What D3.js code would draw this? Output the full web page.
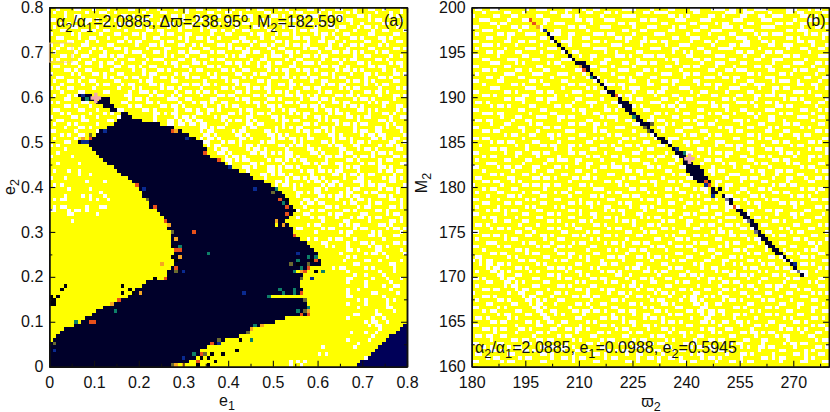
<!DOCTYPE html>
<html><head><meta charset="utf-8">
<script src="https://cdnjs.cloudflare.com/ajax/libs/d3/7.8.5/d3.min.js"></script>
<style>html,body{margin:0;padding:0;background:#fff}svg{display:block}text{font-family:"Liberation Sans",Arial,sans-serif;fill:#111}</style>
</head><body><svg id="c" width="830" height="412"></svg>
<script>
// ---------- data: panel (a) e1/e2 map, 100 x 100 cells, row 0 at the top ----------
const a_xTicks=[0,0.1,0.2,0.3,0.4,0.5,0.6,0.7,0.8];
const a_yTicks=[0,0.1,0.2,0.3,0.4,0.5,0.6,0.7,0.8];
const a_white=[
"..o....oo...o...o.....oo...o..o....o..o..oo....o...o...o..oo....o.o.....oo..o...oo...o...oo..o....o.",
".o..o.....o...oo..o.......o....oo.....o.....oo...oo..o......oo.....o.oo....o..o....o.o.....o...o..o.",
"....o..oo.......o...oo.o....o.....oo.o...o.....o.....o.oo.....oo.o.....o.oo...o.oo....oo.o.....o.o..",
"oo.....o..oo.o....o.....o.oo...o.....o...oo.o....oo.....o..o.o.....oo.o....o.....o.oo....o.oo.....o.",
"...o.o....o....oo..o.oo.....o.o..oo.....o.....oo..o.o.oo.....o..oo....o.oo..o.o.....o..o.....oo.o...",
".o....oo.....o.....o....oo.o.....o..o.oo..o.o.......o....oo.o....o.oo.....o...oo.oo...o.oo.o.....o..",
"...oo....oo.o..oo....o.....oo.oo....o.....o..oo.o..o..oo.....oo.....o.oo.oo.....o....o....o..oo....o",
"o.....o.o.....o...oo...oo.o....o.oo...oo.....o...oo.....o.oo...o.oo.o.....o.oo.o..oo.....oo.....oo..",
"..oo....o..oo...o....o....o..oo.....o.o..oo.o..o.....oo....o..o.....oo.oo...o...o...oo.o....oo.o....",
".....oo...o..o.....oo.o.oo.....o.oo...o.....oo.....oo.oo.o.....oo.o.....o..oo.oo..o.....oo...o...oo.",
"o..o.....oo.....oo......o...oo.o....oo..o.o....oo.o.....o..oo.o...o.oo.oo.....o..o..oo.o....o.o.....",
"..o..oo.o...o.o...oo.o.....o....oo.....o...oo.....o.oo.o.....o..oo.....o.oo..oo....o.....oo.....oo.o",
".o.....o...o...o.....o.ooo...oo.o...oo.ooo...o.oo.....oo.oo...o...oo.o.....o...oo.oo.o.o...o.oo.....",
"...oo.o..oo...oo.o.oo.....o.....o.o...o...oo.....o.o.oo.....o.ooo..o...oo.o.oo.......o..oo.....o..o.",
"o.o.....o...o.....o...oo...o.ooo....oo..o....o.oo.......o..oo.....o..oo.....o..oo.o.oo.....oo.o.....",
"....o.oo..oo..o.oo..o.....o.....o.oo....oo.o.....oo.oo.o..o..o.oo...o..ooo.o.....o....oo.o.....o.oo.",
".oo.....o.....o...oo..oo.o..oo.....o.oo.....oo.o.....o....o.oo.....oo.......oo.oo..o.....oo.oo....o.",
"....oo.o..oo.....o.....o..o...oo.o.....o.oo.....oo.o..oo.....o.o.oo..o.oo.o.....o.oo.o.o.....o..o...",
"o.....o.o...oo.o...oo.....o.oo.....o.oo.....o.o.....oo...o.oo.....o.....o...oo.o....o...oo.o....oo.o",
"..oo.....o.....o.o...o.oo...o..oo.o...o.oo...oo.oo....o.o.....oo.oo.o.oo.oo....o.oo.....o...oo.o....",
".o...oo.o..oo.....oo.....o.oo.....oo.......o.....o.oo.....oo.o.....o.....o..oo.....o.oo.o.o.....oo..",
"...o.....o...o.oo...o.oo....oo.o.....oo.oo.oo.o.....o.oo.....o..oo.oo.o.....o.oo.oo.....o..o.oo.....",
"o.o..oo.....o......o...o.o.....o.oo.o.....o.....oo.o...o.oo.oo.....o...oo.oo.....o.o.oo.....o....o.o",
"...o....oo.....oo.....o..ooo.o.....o..oo.o.oo.o.....oo.o.....o.oo.o..o.....o.oo.....o...oo.oo.o.....",
".o...o.o.............oo.....o.oo..o.o.....o....oo.oo.....oo.o.....oo.oo.o.o.....oo.oo.o.....o...oo.o",
"....oo.....o..........o.oo.o.....ooo..oo.....oo.....o.oo.....oo.o.....o..oo.oo.o.....o.oo.o.....o...",
"o.o......oo.........oo.....oo.o.....o...o.oo.o..oo.....o.oo.o.....oo.o.....o...oo.oo.....o.o.oo.....",
"....oo.o...o..........o.oo.....oo.oo.o.....o...o.o.oo.....o..oo.o.....oo.oo.o.....o.oo.o.....o...oo.",
".oo.....oo...o.....oo.....oo.o.....o..oo.o..oo.o.....o.oo.....o..o.oo.....o..oo.o.....oo.o.o.....o.o",
"...o.o.....o...o.o...........oo.o.oo.....oo.o.....oo.o..o.oo.o.....o.o.oo.....o.oo.o.....o...oo.o...",
"o.....oo.o...o.....o.........o.....o.oo.o.....o.oo.....oo.....oo.o.....o..oo.o.....oo.o.oo.....o..oo",
"..oo.....oo.....oo...........o...oo.o.oo.oo.....o.o.oo.o.o.....o.oo.oo.....o.o.oo.....o.....oo.o....",
".o...o.o.....o...............o...oo.oo.oo.oo.....o.....oo.oo.....o.....oo.o.....o.oo.o.oo.....o.o...",
"....o...oo.o..............................oo.o.oo.....o.oo.....o.o.o.oo.....oo.o.....o.....oo.o..oo.",
"oo.....o.....o............................o.oo.....o.oo.....oo.o.....o.oo.oo.o.o.....o.oo..oo.....o.",
"...o.o..oo.................................oo.o.....oo.o.....oo.o.o.....o.....oo.o.....o.oo.oo.....o",
".o.....o..................................o.oo.o.....oo.o.....o.oo.oo.o.oo.....o.oo.o.....oo.o..oo.",
"....oo.....................................oo...o.oo.o.....o.oo.....o.o.....oo.o....o.oo.o.....oo..o",
"o.o.........o...............................o.oo.....o.oo.o.....oo.o.oo.o.....o.oo...oo.....o.oo.o..",
"....o.......oo................................o.oo.....o.oo.o.....o.....oo.o.....oo...o.oo.o.....oo.",
"..o............................................oo.o.....oo.oo.o.o.oo.....oo.o....o.oo.....o.oo.o...",
"o.....o..........................................o.oo.o.....o.....oo.o.....o.oo.oo...o.oo.o.....oo.o",
".................................................oo.o.oo.....o.oo.o.o.oo.....o.....oo.o.....o.oo...",
"..o.....o.........................................o.....oo.o.....o.....oo.o.oo..oo.....o.oo.o.....oo",
"......................................................oo.o...oo.o.oo.o.....o.....o.o.oo.....oo.o...",
".o...o..o..............................................o.....oo.o.....o.oo.oo.o.oo....o.....o.oo.oo",
"........o..o...............................................oo.o.oo.o.....o.....oo.o.oo.o.oo.....o...",
"o...o.......................................................o.....o.oo.o.oo.o.....o...oo.....o.oo.o",
"..........o....o...............................................oo.o.....o.oo.o.oo....ooo.o.....oo..",
".o.o...........................................................o.oo.o.o.....o.oo.o.....o.oo.oo.....o",
".....o.....o........................................................o.....oo.o.....o.oo.....o.oo.o..",
"..............o......................................................oo.o.oo.....o.oo...o.oo.....o.",
"....o....o.o...o.....................................................o.....oo.o.oo.o.oo.....oo.o...",
".o.oo......o.o..o......................................................oo.o.....o...o.oo.o.....oo.o",
"......................................................................o.oo.oo.....o.oo...o.oo.....o",
".o.oo.....o...oo.......................................................o.....oo.o.....o.oo.....oo.o",
"oo...o.oo.o..........................................................o...o.oo.....oo.o.....oo.o.....",
".....oo......o.........................................................oo.....o.oo.....oo.....o.oo.",
".....................................................................o...o.oo...o...o.oo.o.oo.....o.",
"......o.....................................................................o.....oo.....o.....oo.o.",
"........................................................................o.oo.....o.o.oo.....oo.o....",
".....................................................................oo.....o.oo.....o.oo.....o.oo.o",
"..........................................................................o......o.oo.....o.o.....o.",
"...................................................................................o.....oo.o...oo.",
"........................................................................o.o...o.oo...o.......o.....",
"............................................................................oo.....o...oo.o.....oo.o",
".............................................................................o.o...o.....o.oo.o.....",
"...................................................................................oo.o....oo.....o.",
".................................................................................o......o.oo.o.....o",
"...................................................................................o.o........o....",
"..................................................................................o.....oo..o.....o",
".....................................................................................oo........oo..",
"...............................................................................o.oo.....o.o.....o...",
"...................................................................................o........o...o..",
".....................................................................................o..o....o.....",
"...................................................................................oo.....o...o...o",
"...................................................................................o....o......o...",
"........................................................................................o....o..oo.",
"...................................................................................o..o........o...",
"...................................................................................o......oo.....o.",
"...................................................................................oo........o.....",
"......................................................................................o.o.....o.o..",
"...................................................................................o....o.....o....",
"......................................................................................o.......oo...",
"...........................................................................................o....o...",
".....................................................................................oo....oo.......",
"...................................................................................o......o..o.....",
"........................................................................................o.oo..o.....",
".........................................................................................o.oo.......",
"............................................................................................o.......",
"....................................................................................o...o..o........",
"..........................................................................................o.........",
"...................................................................................o.....o..........",
"......................................................................................o.............",
"............................................................................o........o..............",
"....................................................................................................",
"...........................................................................o.o......................",
"........................................................................................o...........",
"...................................................................o.o.o............................",
"...................................................................o..o............................."
];
const a_darkRuns=[[24,8,11],[25,9,12],[25,14,16],[26,13,16],[27,15,17],[28,17,18],[29,20,21],[30,20,22],[31,19,25],[32,18,30],[33,16,34],[34,14,36],[35,13,38],[36,12,40],[37,8,42],[38,11,42],[39,12,43],[40,13,43],[41,14,44],[42,15,46],[43,16,48],[44,18,50],[45,19,52],[46,20,55],[47,22,56],[48,23,59],[49,24,61],[50,25,62],[51,26,64],[52,26,65],[53,27,66],[54,28,66],[55,28,67],[56,30,67],[57,31,67],[58,32,66],[59,32,65],[60,33,66],[61,33,67],[62,34,67],[63,34,68],[64,34,69],[65,34,71],[66,35,72],[67,35,73],[68,35,74],[69,35,74],[70,35,75],[71,35,75],[72,34,72],[73,33,70],[74,33,70],[75,32,69],[76,27,69],[77,26,69],[78,24,70],[79,23,70],[80,22,60],[81,19,71],[82,17,71],[83,15,72],[84,13,72],[85,12,71],[86,10,65],[87,9,62],[88,7,59],[89,4,56],[90,3,54],[91,2,52],[92,1,48],[93,0,46],[94,0,43],[95,0,42],[96,0,41],[97,0,40],[98,0,38],[99,0,33]];
const a_blueRuns=[[88,99,99],[89,98,99],[90,97,99],[91,95,99],[92,94,99],[93,93,99],[94,92,99],[95,91,99],[96,90,99],[97,89,99],[98,87,99],[99,86,99]];
const a_accents="k:40,36 66,53 68,56 74,73 34,66 34,69 35,70 29,75 20,77 20,79 22,78 23,79 4,77 3,78 2,80 0,81 1,81 0,82 1,82 0,80 45,96 44,97 46,98 48,96 52,95 53,92 42,97 41,99 44,99 69,71 73,70|r:11,36 34,34 24,49 43,40 47,42 64,53 29,55 32,59 35,67 36,67 35,72 32,75 40,62 11,87 12,87 19,81 45,93 42,96 41,98 66,55 66,57 68,63 74,70 71,73 72,72 70,79 72,85 70,85|a:9,36 35,34 33,60 35,64 36,69 31,71 17,82 25,79 37,99 35,99 65,60 63,59 72,84 59,88 56,89 70,73|g:10,25 36,66 63,50 18,84 7,87 44,68 40,96 65,54 74,69 72,69 69,70 76,73 68,73 70,72 64,78 65,79 68,78 68,79 61,80 72,83 69,84 57,88 56,92|n:11,35 27,53 62,51 34,62 35,73 1,93 47,92 43,96 34,99 72,71 67,71 70,75 71,81 71,84 55,90 47,92|b:9,24 9,37 10,37 15,34 38,36 26,50 50,44 57,50 37,73 1,95 47,93 37,97 69,68 73,75 54,79|y:69,73 63,60 42,95";
// ---------- data: panel (b) varpi2/M2 map, 100 x 100 cells ----------
const b_xTicks=[180,195,210,225,240,255,270];
const b_yTicks=[160,165,170,175,180,185,190,195,200];
const b_white=[
".oo..ooo.......o..ooo.....oo...o..oo......oooo....o....oo....ooo...oooo.oo..o..oooo.....ooo...o.oo..",
"...o.....oo...o.......oo..o.....oo...oo.o.......oo.oooo.......oo.......ooo..ooo....o....oo.oo.....oo",
"o.....oo...oo.....oo.....ooo.o......o.....oooo.........oo.o.o.....oo..o....oo...oo..ooo.....oo..o...",
"..ooo.....o...ooo...oo.......oo.oo...ooo.......oo.oo.....ooo....ooo......ooo.....ooo......o...ooo..o",
".....oo.oo..........o..ooo.......o.......oo.oo.......oo......oo.....o.oo.....oo......oo.oo..oo......",
"oo.....o...oo.oo..oo.......oo.oo....ooo......o...ooo....o.oo....oo....ooo..o.....oooo.......o...oo.o",
"...ooo.......o.....o...oo.......o.........oo...oo......oo.....oo...ooo......ooo.........oo.ooo......",
".o.....oo.oo...ooo....ooo..oo.....ooo.oo.....o.....ooo......o.....o.....oo.....o.oo.ooo......o.oo.oo",
"....oo....o........oo......o...oo.......oo.oo...o.......oo...ooo.....oo...ooo...o.......oo.o......o.",
"oo.......oo..oo.oo....oo.ooo......oo.o.....o...oo.oo.oo......o...oo.o.......oo...oo.o......oo.oo....",
"...ooo.o....o......o.......o...oo......ooo.....o......o...ooo......o....oo.ooo.....oo..ooo.....o...o",
".o.......o.....ooo...ooo..........oooo.....oo.....ooo...oo.....oo....oooo.......o.......o...oo...oo.",
"....oo.oo...oo.....o.....oo.oo.......o..o.....oo........o..o.o...oo.......oo.oo...oo.oo.......o.....",
"oo.....o......oo.....oo.......o..oo.....ooo.o...ooo.oo......oo......ooo.....o....o.....oo.oo.....ooo",
"...oo.....ooo....oo......ooo.....o...oo.......o.......o.oo....oo.oo.....oo.....oo...ooo......o......",
".....ooo....o.o......o.oo....oo.....oo....oo..ooo.oo.....o......o...ooo....oo.......o.....ooo...oo.o",
"oo.......oo.......oo.....o.......oo....o.....o........oo...oo.oo....o....o.....oo.oo...oo......o....",
"...oo.o.....oo..o...oo.......oo.o...oo...ooo....oo.o......o.......oo...oo.ooo......oo.....o.oo...oo.",
".o.......ooo.....ooo....ooo....o.......o......oo.....ooo...oo.oo.....o.......oo.o.....oo.o......o...",
"....oo..o....oo.......o.....o...oooo.....oo.o.....oo.......o.....ooo..oo.oo.......ooo........oo...oo",
"oo.....oo.......oo.o.....oo.......o..o......oo...o...oo.oo....oo.........o...oo.....o.ooo..o.....o..",
"...o.......oo.o.....oo.....oo.oo.....ooo.oo......oo.....o......o.oo.oo.....oo..ooo.........oo..oo...",
".....ooo.......ooo.......o......o.o.......o.ooo......oo...ooo.......o...ooo.....o...oo.oo.......o..o",
"oo.......oo.o.....oo.oo.....ooo.....oo.......o...oo.oo.......o..oo.....o.....oo.....o.....ooo.o.....",
"...oo.o.......oo.......o..o.....oo.....ooo.oo......o....oo.....o...oo.....oo...oo.ooo.oo........oo..",
".........oo.ooo...oo.ooo.....oo.....o.......o.oo.....oo...o.oo........oo.o.....o.......o.oo.o......o",
".oo.o.........o......o......o...ooo....oo.........ooo....o.....ooo.o......ooo.o...oo.o.......oo..oo..",
".....o.oo.o.....oo.....oo.oo.....o...o...oo.oo.o.....o.oo.oo.......oo.oo.......o.....oo.oo......o...",
"oo...........oo....oo.......o.oo.....oo.o.......oo.......o.....oo......o...oo.....ooo.......oo...o.o",
"...ooo.oo.......o.....oo.......o..oo........oo.....oo.o....oo.....o.oo...o...oo.o.....o.oo.....o....",
"........o...oo....ooo...oo.oo.......o.ooo.....o...o.....oo.....oo.....oo.......o...oo......ooo...oo.",
".oo.oo.....o...oo.......o.......oo......o..oo....oo.oo.....oo.o.....o....ooo.o.....oo..o.......o....",
".....o...oo.....o.oo.......oo.oo..oo.o.......oo.......o.o......oo.oo.......o....oo.....oo.oo.....oo.",
"oo......o....oo.....oo.oo.........o.....ooo.....oo..oo.....ooo.......o.oo....oo....o.o......o.o.....",
"...oo.oo......o...o.......ooo.....o.oo.......o.......o...oo.....oo......o.oo......oo...oo.......oo.o",
".........o.oo...oo...oo.o.....oo......o.oo.....oo.oo.......o.oo...o.oo.......oo.o.....o...oo.oo.....",
"oo.oo.........o.......o....oo.....o.o.....oo.o.....o...ooo.......o.......oo.....o.oo.......o......oo",
".....o.oo.oo.....oo.....o.......oo.......o......oo.....o...oo.oo....ooo......oo.....oo.oo.....oo.o..",
"..o.........o..o...oo.oo...oo.o.....oo.o...oo.o.....oo......o.......o..oo.oo.....o.......o.oo.......",
".....oo.oo.....o.......o...o.....oo.....oo.....o.oo.....oo.....oo.o.......o..oo...oo.oo.......o.oo.o",
"oo.......o..oo...oo.oo.....oo.oo.....o.......oo.......o.....oo....o.oo.oo.....o.......o.oo.o.......o",
"...o.oo.....o.....o.....o.......o.oo...oo.o......oo.oo..oo.....o.......o...oo...oo.o......o...oo.o..",
".o.......oo....oo....oo.ooo..oo.....o.....oo.oo....o.....o.oo....oo.oo.......oo.....oo.oo.....o.....",
"....ooo.......o.....o........o..oo.....o........oo.....oo.......o.....o.oo.....o.oo.....o.oo.....oo.",
"oo.....o.oo.oo...oo....oo.o.....o...oo.ooo.o.....oo.o.....oo.oo....o.....o..oo.....o........o.oo....",
"...o.......o.....o...oo......oo...o........oo.oo......oo.......o..oo.oo.......o.oo...oo.oo......o.oo",
".....oo.o.....oo...o.....oo.....o.....oo.......o.oo.....o.oo.......o....ooo......o...o.....oo.......",
".oo.......oo.....oo.oo.o....oo.oo.o.......o.oo.......o......oo.oo......o...oo.oo....o...oo...o..oo.o",
"...oo.oo...o.o.............o.........oo.oo.....oo.oo...oo.o.......o.oo.....o.....oo.....o.....oo....",
"o.......o.....oo.oo.oo.oo.....oo.o.......o.o.......o.......oo.......o..oo.....o.....o.oo.oo.........",
"...o.oo....oo.......o......o......ooo.......oo.oo.....oo.o....o.oo.....o...oo...oo.o........o.oo.oo.",
".o.....oo.....o..oo....o.oo..oo.......o.oo.......o.o......oo.....o.oo.....o..o......oo.oo.......o...",
"....o.....oo.o.....oo......o.....oo.o.....oo.oo.......oo.....o.o.......oo.....oo.o.......o.oo.o.....",
"oo.....o.......o.o.....oo.....o.......oo.......o.oo.o.....o......oo.o....oo.o.....o.oo.........oo.oo",
"...oo....oo.oo.....oo......oo.o.oo.o.....o.oo.......o..oo...oo.o.......o.....o.oo.....oo.oo.o.......",
".o.....o.......o.o.....o.o.......o...oo.....o..oo.o........o.....o.oo..oo.o.....o.........o.....oo.o",
"....o.oo.o.oo.....oo.......oo.o......o.o.oo.....o...oo.oo.......oo.....o.....oo...oo.oo......oo.....",
"oo.......o....oo.....oo.o.....o..oo.......o...oo.......o...oo.o.....oo.....o.o.......o...oo.o.....o.",
"...o.oo.....o.....oo.......oo.....o..oo.o......o.o.oo.....o.....oo.o...ooo.....oo.o.......o.....oo..",
"......o..oo...oo.....oo.o.....oo.o......o.oo.o.......o.oo...oo.......o......oo......oo.o.....oo.....",
".oo.o........o....o.......o.o.....oo.o.......o...oo.o.......o...o.oo...oo.o....o.oo.......oo.....o.o",
".....o.oo.o....oo....oo.o....oo.......o.oo.....o.....oo.o.....oo.....o.....oo.o.......o.o.....oo....",
"oo..........oo...o.......oo.....o.oo.......oo...o.oo......oo.......o.oo.o......oo.oo.....o.oo......o",
"...oo.oo.o.....oo..oo.o.....oo.o.....oo.o.....oo......o.o.....oo.o......oo.oo.......o.oo.......oo...",
".o.......o.oo.......o...oo.......o.o.......o.......oo....oo.o.......oo.......o.oo.o.......oo.o.....o",
"....ooo.......o.oo....o.....o.oo.....o.oo.o..oo.oo.....o......o.oo.....o.oo.....o.....oo......oo.o..",
"oo.....o.oo.......o.oo..oo.o.....oo.......o.......o.oo...oo.oo.......o.o.....oo...oo.....oo.....o...",
"...o........oo.o.......o........o.....o.o...oo.oo.....o.......o...oo.....oo.o.....o.oo.o.....o.oo...",
".....oo.oo.....o.oo.....oo.oo.....oo.......o.....o.......oo.....o...oo.......o.oo.......oo.o.....oo.",
".oo.......o.o.......oo.....o..o.o.....oo.oo...oo.o.oo.o.....oo.....o....oo.o.......oo.o.....oo.o....",
"o.o.oo.......oo.oo.....o.oo.....o...o.....o.......o.....o.oo.....oo...oo.....oo.o......o.o........oo",
"..o.oo.oo.o.......o.o........oo.....oo.oo.....oo.....oo.......o.o.....o..o.o.....o.oo.......oo.o....",
"....o.oo....oo.o.....oo.oo.o.....o.o.......o.oo..o.....o.oo.....o..oo.......o.oo.....o.oo........o.o",
".o...oo.o.o.....o.o.......o..oo.....o.oo.o......oo.o.oo.....o.......o.oo.o......o.o......oo.oo..o...",
".......oo...oo.......oo.o.....o.o.......oo..o.......o.....oo.oo.o.......oo.oo.o.....oo.o.....o......",
"oo.o....o.oo.....oo.....o.oo.....oo.oo.....o...oo.o...oo.......o..oo.o.......o...oo.....o.oo.....oo.",
"....oo...oo.o.o.....oo.......o.o.....o.oo....o....oo.....o.oo.....o...oo.oo.....o......o......o.o...",
".o.......o.oo....oo.....oo.o.....oo.......o.oo.o......oo.......o.....o.....o.oo...oo.oo..oo......oo.",
"...oo.oo....o.oo.....o.......oo.o...o.oo......o..oo.o.....oo.o...oo...oo.o.....o.....o.....o.oo.....",
"o.........o..oo...oo...oo.o.....o.....o..oo.o......o.oo.o.....oo.....o.....oo.....oo....oo.....o.o.o",
"...oo.o.......o.oo....o.....oo.oo.oo.......o..oo.o.....o...o.oo..o.o..oo.....o.oo.....o.....oo......",
".o.....oo.o....oo.o.o...oo.......o.....oo.o.......o.oo....o..oo.o.....o.oo.o.....o.oo....o.....oo...",
"....oo.....oo...o.oo...o.....oo.o...oo......oo.o.....oo.o.....oo.o..oo.......oo.......oo...oo.....o.",
"oo.....o.o.......oo.o......o.....o.....oo.......o.o......oo.....oo.......oo.o.....oo.o.....o...oo...",
"...o.oo.....oo....oo..oo....oo.oo.oo.o...oo.oo.....oo.o.....oo.oo.oo.oo.......o.o.......oo.....o..oo",
".......o.oo....oo..oo..o.o.....o.......o.....o..oo.....o.oo.....o.oo..o..oo.o.....oo.o.....oo.......",
".oo.o.....o.o.......oo.......oo.....oo.oo.o.....o.oo.o.......o...oo......o.....o.......o.o.....oo.o.",
".....oo.oo.....oo.o..oo..oo.....o.o.......o.oo.......o.oo.o.....oo.o..oo..oo.o.....oo.....oo.o......",
"oo..........o.....oo....o.....o.....oo.o.....o..oo.o........oo.......o.....o...oo.o...oo.......o.oo.",
"...oo.o.oo...oo.o.....oo..oo.oo.o.......o.oo.....o...oo.o.......o.oo...oo.....o.......o.oo.o.o.....o",
"......o.....o.....oo.o.......o.....oo.o.....o.oo.......o..oo.o.....o.o.....oo.oo.o.oo.......o...oo..",
".oo.oo..oo.......o......o.oo.....oo.......oo......o.oo.....o...oo.......oo.....o.....o.oo.....oo....",
".....o.....oo.oo..oo.oo.....o.o.....o.oo.....o.oo.....o.o.....o...oo.oo.....oo...oo.....o.......o.oo",
"oo.....oo.......o.........o.....oo.o.....oo.o.....o.oo.....oo.o.......o.o.oo.....o.....o.oo.oo......",
"...o.o....o.oo.....oo.oo.oo.o.......oo.......oo.o.....oo.....o.oo.oo.......o.o..oo.oo.....o.....oo.o",
".....oo.o.....oo.o.......o...oo.o.....o.o.oo.....o.oo...o.oo.......o.oo.o.......o.....oo.....o.o....",
".oo.......oo.......oo.o.....o.....oo.o.....o..oo.....o.......o.oo......o...oo.o.....o.....oo.o...oo.",
"....o.oo.....o.oo.....o..oo.o.oo.....o.oo.....o..oo.o..oo.o.....o.oo.o.....o.....oo.o.oo.....o.o....",
"oo......o.oo.......oo.......o.....oo.......oo.o.....o.....oo.oo.....o...oo.o.oo.......o.....oo....oo"
];
const b_darkRuns=[[7,21,21],[8,22,22],[9,23,23],[10,24,24],[11,25,25],[12,26,26],[13,27,27],[14,28,28],[15,29,31],[16,31,32],[17,32,32],[18,33,33],[19,33,34],[20,35,35],[21,36,36],[22,37,37],[23,38,39],[24,39,40],[25,41,41],[26,41,43],[27,42,44],[28,43,44],[29,44,45],[30,45,46],[31,46,47],[32,47,49],[33,48,49],[34,50,50],[35,51,51],[36,52,53],[37,53,54],[38,55,55],[39,56,57],[40,57,58],[41,58,59],[42,59,60],[43,59,61],[44,60,63],[45,60,64],[46,61,64],[47,62,65],[48,63,66],[49,65,66],[50,67,67],[50,69,69],[51,67,68],[52,67,67],[52,70,70],[53,71,72],[54,72,72],[55,73,73],[56,74,75],[57,75,76],[58,76,77],[59,77,78],[60,78,79],[61,79,79],[62,79,80],[63,80,81],[64,81,82],[65,82,83],[66,83,84],[67,84,85],[68,85,86],[69,87,87],[70,88,88],[71,89,90],[72,90,90],[74,92,92]];
const b_accents="r:16,3 17,4 31,17 40,24 65,48 66,49 73,55|a:18,5 30,16|g:33,19 45,30 59,40|n:48,33 50,32 49,34|b:20,6 57,39 65,49 67,52 90,71|s:71,53 77,59 79,62 91,73";
const a_marker=[0.104,0.598], b_marker=[240.95,183.15];
const a_box=[0,0.0508,0.678,0.7205];
const a_note=[["α"],["2","s"],["/α"],["1","s"],["=2.0885, Δϖ=238.95"],["o","u"],[", M"],["2","s"],["=182.59"],["o","u"]];
const b_note=[["α"],["2","s"],["/α"],["1","s"],["=2.0885, e"],["1","s"],["=0.0988, e"],["2","s"],["=0.5945"]];

const FS=16;
const colors={".":"#ffff00",o:"#ffffff",d:"#00002a",c:"#000058",k:"#00000a",r:"#e8501a",a:"#f5a623",g:"#0e7f68",n:"#6a6a30",b:"#0a2a90",s:"#707090",y:"#ffff00"};
const svg=d3.select("#c");
function buildGrid(white,runs,blue,accents){
  const g=d3.range(100).map(r=>{const s=(white[r]||"");return d3.range(100).map(c=>s[c]==="o"?"o":".");});
  runs.forEach(([r,a,b])=>{for(let c=a;c<=b;c++)g[r][c]="d";});
  blue.forEach(([r,a,b])=>{for(let c=a;c<=b;c++)g[r][c]="c";});
  accents.split("|").forEach(part=>{const [k,l]=part.split(":");l.split(" ").forEach(p=>{const [c,r]=p.split(",").map(Number);g[r][c]=k;});});
  return g;
}
function sub(sel,parts,size){
  let pending=0;
  parts.forEach(([t,m])=>{
    const ts=sel.append("tspan").text(t);
    const shift=m==="s"?size*0.3:m==="u"?-size*0.32:0;
    const dy=shift-pending; if(dy)ts.attr("dy",dy);
    pending=shift;
    if(m)ts.style("font-size",(size*0.8)+"px");
  });
}
function panel(o){
  const g=svg.append("g");
  const xb=d3.scaleBand(d3.range(100),[o.l,o.r]),yb=d3.scaleBand(d3.range(100),[o.t,o.b]);
  const x=d3.scaleLinear(o.xd,[o.l,o.r]),y=d3.scaleLinear(o.yd,[o.b,o.t]);
  const cells=[];o.grid.forEach((row,r)=>row.forEach((k,c)=>cells.push({r,c,k})));
  g.append("g").style("filter","blur(0.35px)").attr("shape-rendering","crispEdges").selectAll("rect").data(cells).join("rect")
    .attr("x",d=>xb(d.c)).attr("y",d=>yb(d.r)).attr("width",xb.bandwidth()+0.3).attr("height",yb.bandwidth()+0.3).attr("fill",d=>colors[d.k]);
  const fmt=o.fmt;
  const mk=(axis,tr,vals,labels,len)=>{
    const a=g.append("g").attr("transform",tr).call(axis.tickValues(vals).tickSize(-len).tickSizeOuter(0).tickFormat(labels?fmt:""));
    a.select(".domain").attr("stroke","#111").attr("stroke-width",1.5);
    a.selectAll(".tick line").attr("stroke","#111").attr("stroke-width",1.1);
    if(labels)a.selectAll("text").style("font-size",FS+"px").attr("fill","#111");
    else a.selectAll("text").remove();
    return a;
  };
  const minor=(s,t)=>{const [a,b]=s.domain();const lo=Math.min(a,b),hi=Math.max(a,b);return d3.range(lo+t/2,hi,t);};
  const xm=minor(x,o.xt),ym=minor(y,o.yt);
  const maj=6,mn=3;
  const xa=mk(d3.axisBottom(x),`translate(0,${o.b})`,o.xTicks,true,maj);xa.selectAll("text").attr("y",10.2);
  mk(d3.axisTop(x),`translate(0,${o.t})`,o.xTicks,false,maj);
  const ya=mk(d3.axisLeft(y),`translate(${o.l},0)`,o.yTicks,true,maj);ya.selectAll("text").attr("x",-6);
  mk(d3.axisRight(y),`translate(${o.r},0)`,o.yTicks,false,maj);
  mk(d3.axisBottom(x),`translate(0,${o.b})`,xm,false,mn);
  mk(d3.axisTop(x),`translate(0,${o.t})`,xm,false,mn);
  mk(d3.axisLeft(y),`translate(${o.l},0)`,ym,false,mn);
  mk(d3.axisRight(y),`translate(${o.r},0)`,ym,false,mn);
  g.append("path").attr("d",d3.symbol(d3.symbolCross,62)()).attr("fill","#f2a9a9")
    .attr("transform",`translate(${x(o.marker[0])},${y(o.marker[1])})`);
  return {g,x,y};
}
const A=panel({l:49.3,r:407,t:7.3,b:366.7,xd:[0,0.8],yd:[0,0.8],xTicks:a_xTicks,yTicks:a_yTicks,xt:0.1,yt:0.1,marker:a_marker,
  fmt:d=>d===0?"0":d3.format(".1f")(d),grid:buildGrid(a_white,a_darkRuns,a_blueRuns,a_accents)});
const B=panel({l:471.7,r:829,t:7.3,b:366.7,xd:[180,280],yd:[160,200],xTicks:b_xTicks,yTicks:b_yTicks,xt:15,yt:5,marker:b_marker,
  fmt:d3.format("d"),grid:buildGrid(b_white,b_darkRuns,[],b_accents)});
A.g.append("rect").attr("x",A.x(a_box[0])).attr("width",A.x(a_box[1])-A.x(a_box[0])).attr("y",A.y(a_box[3])).attr("height",A.y(a_box[2])-A.y(a_box[3]))
  .attr("fill","none").attr("stroke","#f3c38a").attr("stroke-width",0.8);
const note=(g,x,y,parts)=>sub(g.append("text").attr("x",x).attr("y",y).style("font-size",FS+"px"),parts,FS);
note(A.g,56,27,a_note);
note(B.g,475,353,b_note);
A.g.append("text").attr("x",384).attr("y",26).style("font-size",FS+"px").text("(a)");
B.g.append("text").attr("x",806).attr("y",26).style("font-size",FS+"px").text("(b)");
const lab=(x,y,t,s,rot)=>{const e=svg.append("text").attr("transform",`translate(${x},${y})${rot?" rotate(-90)":""}`).attr("text-anchor","middle").style("font-size",FS+"px");
  e.append("tspan").text(t);e.append("tspan").attr("dy",4).style("font-size","12.5px").text(s);};
lab(227,406,"e","1");lab(651,407,"ϖ","2");lab(14.6,187,"e","2",true);lab(427,183,"M","2",true);
</script></body></html>
